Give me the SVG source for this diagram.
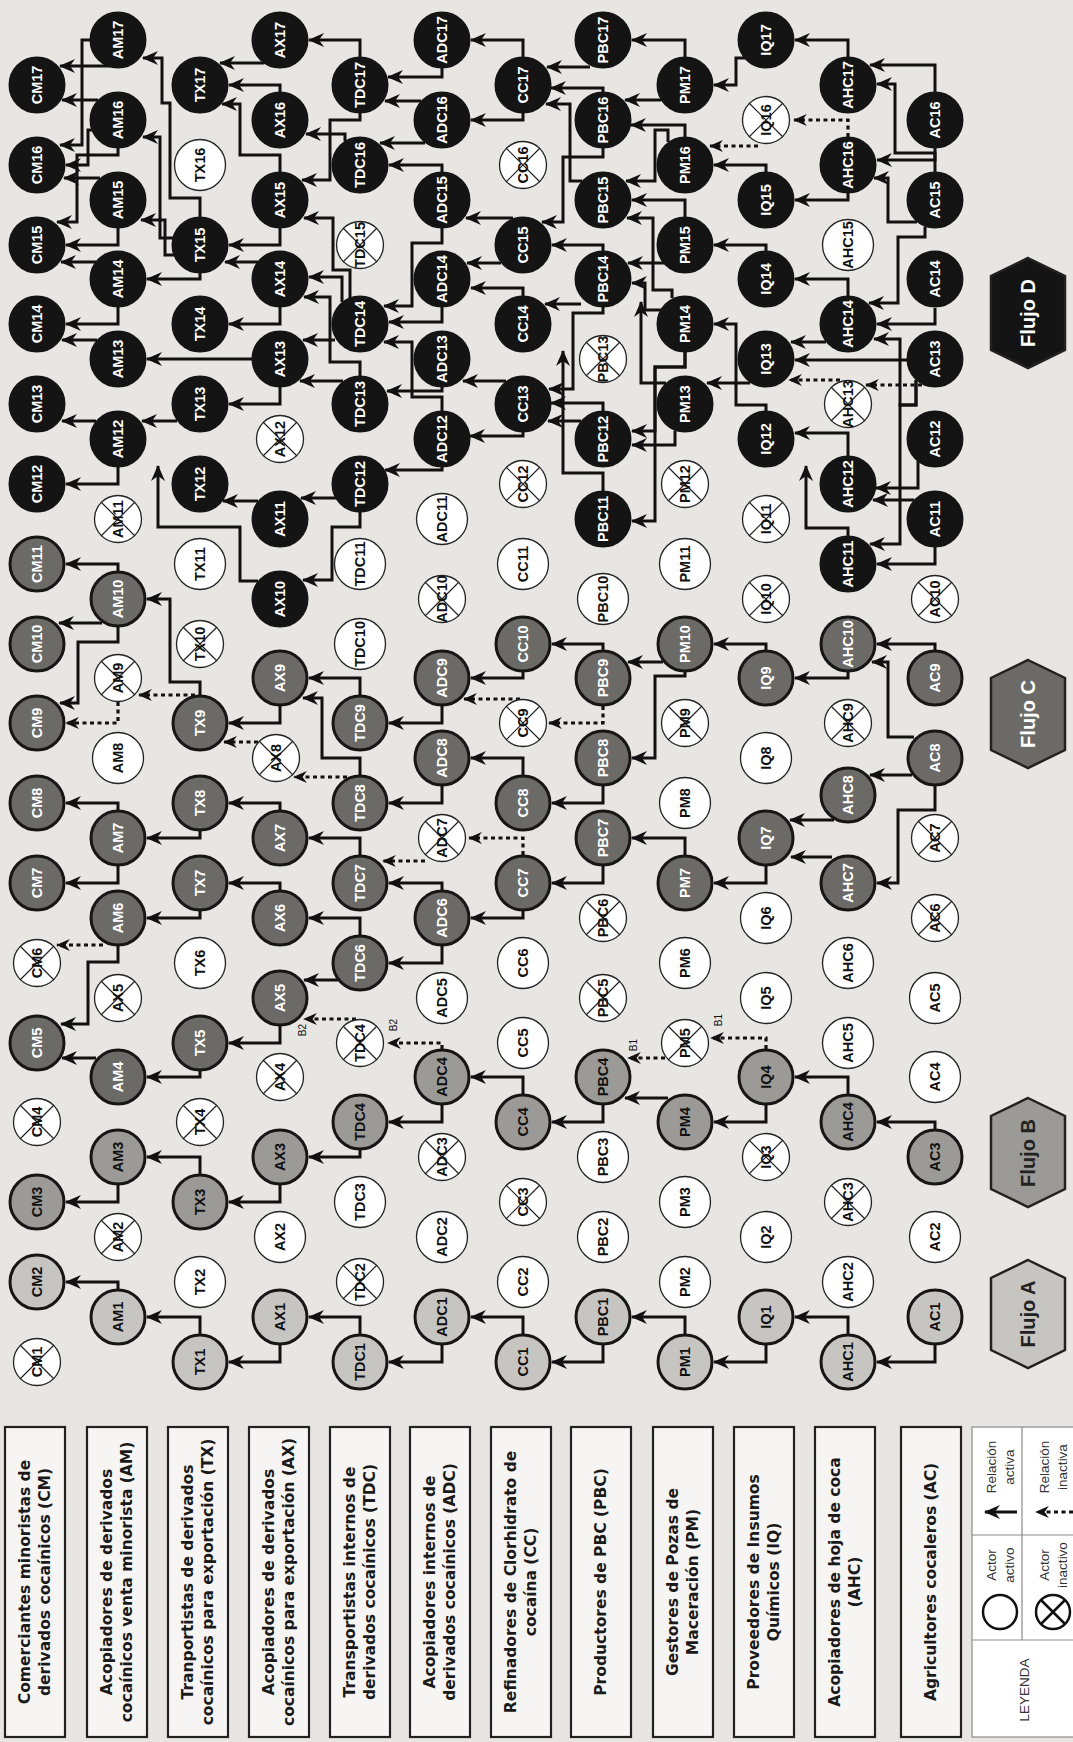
<svg xmlns="http://www.w3.org/2000/svg" width="1073" height="1742" viewBox="0 0 1073 1742">
<defs>
<marker id="ah" viewBox="0 0 16 14" refX="15" refY="7" markerWidth="16" markerHeight="14" markerUnits="userSpaceOnUse" orient="auto"><path d="M0,0 L16,7 L0,14 L5,7 Z" fill="#111"/></marker>
<marker id="ahd" viewBox="0 0 16 14" refX="15" refY="7" markerWidth="14" markerHeight="12" markerUnits="userSpaceOnUse" orient="auto"><path d="M0,0 L16,7 L0,14 L5,7 Z" fill="#111"/></marker>
<style>
.n circle{stroke:#161616;stroke-width:3}
.a circle{fill:#c6c5c2}
.b circle{fill:#9b9a97}
.c circle{fill:#6b6a67}
.d circle{fill:#141414;stroke:#141414}
.w circle,.x circle{fill:#fff;stroke:#222;stroke-width:1.3}
.x path{stroke:#222;stroke-width:1.2;fill:none}
.n text{font-family:"Liberation Sans",Arial,sans-serif;font-weight:bold;font-size:14.5px;text-anchor:middle;dominant-baseline:central;fill:#111}
.c text,.d text{fill:#fff}
.e{fill:none;stroke:#111;stroke-width:3;marker-end:url(#ah)}
.ed{fill:none;stroke:#111;stroke-width:3.2;stroke-dasharray:4 3.5;marker-end:url(#ahd)}
.lb rect{fill:#f6f5f3;stroke:#222;stroke-width:2.2}
.lb text{font-family:"DejaVu Sans",sans-serif;font-weight:bold;font-size:15.5px;text-anchor:middle;dominant-baseline:central;fill:#1a1a1a}
.hx polygon{stroke:#222;stroke-width:2.5}
.hx text{font-family:"Liberation Sans",Arial,sans-serif;font-weight:bold;font-size:20px;text-anchor:middle;dominant-baseline:central;fill:#222}
.bt{font-family:"Liberation Sans",Arial,sans-serif;font-size:10px;fill:#111;text-anchor:middle;dominant-baseline:central}
.lg text{font-family:"Liberation Sans",Arial,sans-serif;font-size:13.5px;fill:#333;text-anchor:middle;dominant-baseline:central}
</style>
</defs>
<rect width="1073" height="1742" fill="#e8e6e3"/>

<g id="labels" class="lb">
<g id="lbl-CM"><rect x="5" y="1427" width="60" height="310"/><text x="25" y="1582" transform="rotate(-90 25 1582)">Comerciantes minoristas de</text><text x="45" y="1582" transform="rotate(-90 45 1582)">derivados cocaínicos (CM)</text></g>
<g id="lbl-AM"><rect x="87" y="1427" width="60" height="310"/><text x="107" y="1582" transform="rotate(-90 107 1582)">Acopiadores de derivados</text><text x="127" y="1582" transform="rotate(-90 127 1582)">cocaínicos venta minorista (AM)</text></g>
<g id="lbl-TX"><rect x="168" y="1427" width="60" height="310"/><text x="188" y="1582" transform="rotate(-90 188 1582)">Tranportistas de derivados</text><text x="208" y="1582" transform="rotate(-90 208 1582)">cocaínicos para exportación (TX)</text></g>
<g id="lbl-AX"><rect x="249" y="1427" width="60" height="310"/><text x="269" y="1582" transform="rotate(-90 269 1582)">Acopiadores de derivados</text><text x="289" y="1582" transform="rotate(-90 289 1582)">cocaínicos para exportación (AX)</text></g>
<g id="lbl-TDC"><rect x="330" y="1427" width="60" height="310"/><text x="350" y="1582" transform="rotate(-90 350 1582)">Transportistas internos de</text><text x="370" y="1582" transform="rotate(-90 370 1582)">derivados cocaínicos (TDC)</text></g>
<g id="lbl-ADC"><rect x="410" y="1427" width="60" height="310"/><text x="430" y="1582" transform="rotate(-90 430 1582)">Acopiadores internos de</text><text x="450" y="1582" transform="rotate(-90 450 1582)">derivados cocaínicos (ADC)</text></g>
<g id="lbl-CC"><rect x="491" y="1427" width="60" height="310"/><text x="511" y="1582" transform="rotate(-90 511 1582)">Refinadores de Clorhidrato de</text><text x="531" y="1582" transform="rotate(-90 531 1582)">cocaína (CC)</text></g>
<g id="lbl-PBC"><rect x="571" y="1427" width="60" height="310"/><text x="601" y="1582" transform="rotate(-90 601 1582)">Productores de PBC (PBC)</text></g>
<g id="lbl-PM"><rect x="653" y="1427" width="60" height="310"/><text x="673" y="1582" transform="rotate(-90 673 1582)">Gestores de Pozas de</text><text x="693" y="1582" transform="rotate(-90 693 1582)">Maceración (PM)</text></g>
<g id="lbl-IQ"><rect x="734" y="1427" width="60" height="310"/><text x="754" y="1582" transform="rotate(-90 754 1582)">Proveedores de Insumos</text><text x="774" y="1582" transform="rotate(-90 774 1582)">Químicos (IQ)</text></g>
<g id="lbl-AHC"><rect x="815" y="1427" width="60" height="310"/><text x="835" y="1582" transform="rotate(-90 835 1582)">Acopiadores de hoja de coca</text><text x="855" y="1582" transform="rotate(-90 855 1582)">(AHC)</text></g>
<g id="lbl-AC"><rect x="901" y="1427" width="60" height="310"/><text x="931" y="1582" transform="rotate(-90 931 1582)">Agricultores cocaleros (AC)</text></g>
</g>

<g id="legend" class="lg">
<rect x="972" y="1427" width="110" height="310" fill="#fff" stroke="#8a8a8a" stroke-width="1.2"/>
<path d="M972,1640H1073M972,1535H1073M1022,1427V1640" stroke="#8a8a8a" stroke-width="1.2" fill="none"/>
<text x="1024" y="1690" transform="rotate(-90 1024 1690)" fill="#555">LEYENDA</text>
<circle cx="1000" cy="1612" r="17" fill="none" stroke="#111" stroke-width="2.5"/>
<text x="991" y="1565" transform="rotate(-90 991 1565)">Actor</text>
<text x="1009" y="1565" transform="rotate(-90 1009 1565)">activo</text>
<circle cx="1053" cy="1612" r="17" fill="none" stroke="#111" stroke-width="2.5"/>
<path d="M1041,1600L1065,1624M1065,1600L1041,1624" stroke="#111" stroke-width="2.5"/>
<text x="1044" y="1565" transform="rotate(-90 1044 1565)">Actor</text>
<text x="1062" y="1565" transform="rotate(-90 1062 1565)">inactivo</text>
<path class="e" d="M1017,1512H985"/>
<text x="991" y="1467" transform="rotate(-90 991 1467)">Relación</text>
<text x="1009" y="1467" transform="rotate(-90 1009 1467)">activa</text>
<path class="ed" d="M1073,1512H1036"/>
<text x="1044" y="1467" transform="rotate(-90 1044 1467)">Relación</text>
<text x="1062" y="1467" transform="rotate(-90 1062 1467)">inactiva</text>
</g>

<g id="flujos" class="hx">
<g id="flujoA"><polygon points="1028,1260 1065,1278 1065,1350 1028,1368 991,1350 991,1278" fill="#c6c5c2"/><text x="1028" y="1314" transform="rotate(-90 1028 1314)">Flujo A</text></g>
<g id="flujoB"><polygon points="1028,1098 1065,1116 1065,1189 1028,1207 991,1189 991,1116" fill="#9b9a97"/><text x="1028" y="1153" transform="rotate(-90 1028 1153)">Flujo B</text></g>
<g id="flujoC"><polygon points="1028,660 1065,678 1065,750 1028,768 991,750 991,678" fill="#6b6a67"/><text x="1028" y="714" transform="rotate(-90 1028 714)" fill="#fff" style="fill:#fff">Flujo C</text></g>
<g id="flujoD"><polygon points="1028,258 1065,276 1065,350 1028,368 991,350 991,276" fill="#141414"/><text x="1028" y="313" transform="rotate(-90 1028 313)" style="fill:#fff">Flujo D</text></g>
</g>

<g id="connectors">
<path class="e" d="M118,1289V1282H66"/>
<path class="e" d="M200,1334V1317H147"/>
<path class="e" d="M280,1345V1362H229"/>
<path class="e" d="M360,1334V1317H309"/>
<path class="e" d="M442,1345V1362H389"/>
<path class="e" d="M523,1334V1317H471"/>
<path class="e" d="M603,1345V1362H552"/>
<path class="e" d="M685,1334V1317H632"/>
<path class="e" d="M766,1345V1362H714"/>
<path class="e" d="M848,1334V1317H795"/>
<path class="e" d="M935,1345V1362H877"/>
<path class="e" d="M118,1185V1202H66"/>
<path class="e" d="M200,1174V1157H147"/>
<path class="e" d="M280,1185V1202H229"/>
<path class="e" d="M360,1150V1157H309"/>
<path class="e" d="M442,1105V1122H389"/>
<path class="e" d="M523,1094V1077H471"/>
<path class="e" d="M603,1105V1122H552"/>
<path class="e" d="M668,1098H625"/>
<path class="e" d="M766,1105V1122H714"/>
<path class="e" d="M848,1094V1077H795"/>
<path class="e" d="M935,1129V1122H877"/>
<path class="ed" d="M766,1049V1038H711"/>
<path class="ed" d="M665,1058H628"/>
<path class="ed" d="M442,1049V1043H388"/>
<path class="ed" d="M356,1019H304"/>
<path class="e" d="M96,1058H62"/>
<path class="e" d="M200,1071V1077H147"/>
<path class="e" d="M280,1026V1043H229"/>
<path class="e" d="M338,980H304"/>
<path class="e" d="M118,946V962H88V1024H61"/>
<path class="ed" d="M103,945H57"/>
<path class="e" d="M200,911V918H147"/>
<path class="e" d="M280,890V883H229"/>
<path class="e" d="M360,935V918H309"/>
<path class="e" d="M442,946V963H389"/>
<path class="e" d="M442,890V883H389"/>
<path class="ed" d="M425,861H383"/>
<path class="e" d="M523,911V918H471"/>
<path class="ed" d="M523,855V838H469"/>
<path class="e" d="M603,866V883H552"/>
<path class="e" d="M685,855V838H632"/>
<path class="e" d="M766,866V883H714"/>
<path class="e" d="M832,857H791"/>
<path class="e" d="M834,820H790"/>
<path class="e" d="M912,775H870"/>
<path class="e" d="M935,786V810H898V883H877"/>
<path class="e" d="M914,737H888V662H872"/>
<path class="e" d="M935,650V644H877"/>
<path class="e" d="M848,672V678H795"/>
<path class="e" d="M766,650V644H714"/>
<path class="e" d="M663,662H628"/>
<path class="e" d="M685,672V676H655V758H632"/>
<path class="e" d="M603,650V644H552"/>
<path class="ed" d="M603,706V723H549"/>
<path class="ed" d="M520,699H464"/>
<path class="e" d="M523,672V678H471"/>
<path class="e" d="M442,706V723H389"/>
<path class="e" d="M603,786V803H552"/>
<path class="e" d="M523,775V758H471"/>
<path class="e" d="M442,786V803H389"/>
<path class="e" d="M360,695V678H309"/>
<path class="e" d="M360,775V758H322V698H303"/>
<path class="ed" d="M347,777H294"/>
<path class="e" d="M360,855V838H309"/>
<path class="e" d="M280,706V723H229"/>
<path class="ed" d="M258,742H224"/>
<path class="e" d="M280,810V803H229"/>
<path class="e" d="M200,695V682H170V599H147"/>
<path class="ed" d="M195,695H139"/>
<path class="e" d="M200,831V838H147"/>
<path class="e" d="M118,571V564H66"/>
<path class="e" d="M102,623H59"/>
<path class="e" d="M118,627V642H78V703H60"/>
<path class="ed" d="M118,702V723H66"/>
<path class="e" d="M118,810V803H66"/>
<path class="e" d="M118,866V883H66"/>
<path class="e" d="M110,66H60"/>
<path class="e" d="M90,40H82V145H60"/>
<path class="e" d="M98,100H62"/>
<path class="e" d="M92,130H88V165H66"/>
<path class="e" d="M118,148V155H77V222H57"/>
<path class="e" d="M100,178H64"/>
<path class="e" d="M118,228V245H66"/>
<path class="e" d="M96,262H61"/>
<path class="e" d="M118,307V324H66"/>
<path class="e" d="M97,340H62"/>
<path class="e" d="M96,421H62"/>
<path class="e" d="M118,467V484H66"/>
<path class="e" d="M200,217V198H170V103H162V58H143"/>
<path class="e" d="M173,238H160V137H143"/>
<path class="e" d="M174,255H165V220H141"/>
<path class="e" d="M200,273V279H147"/>
<path class="e" d="M177,421H142"/>
<path class="e" d="M252,359H147"/>
<path class="e" d="M258,581H240V527H158V466"/>
<path class="e" d="M264,63H220"/>
<path class="e" d="M280,92V85H229"/>
<path class="e" d="M280,172V155H240V104H222"/>
<path class="e" d="M280,228V245H229"/>
<path class="e" d="M258,262H225"/>
<path class="e" d="M280,307V324H229"/>
<path class="e" d="M280,387V404H229"/>
<path class="e" d="M258,501H223"/>
<path class="e" d="M360,57V40H309"/>
<path class="e" d="M360,113V120H330V180H302"/>
<path class="e" d="M345,141V134H306"/>
<path class="e" d="M350,298V270H333V218H304"/>
<path class="e" d="M342,302V277H309"/>
<path class="e" d="M360,376V362H330V297H304"/>
<path class="e" d="M335,340H303"/>
<path class="e" d="M343,381H300"/>
<path class="e" d="M336,498H301"/>
<path class="e" d="M360,512V527H332V580H303"/>
<path class="e" d="M442,68V77H388"/>
<path class="e" d="M421,101H385"/>
<path class="e" d="M425,143H380"/>
<path class="e" d="M442,172V165H389"/>
<path class="e" d="M442,228V243H412V306H384"/>
<path class="e" d="M442,307V322H389"/>
<path class="e" d="M442,411V397H412V342H384"/>
<path class="e" d="M442,387V391H387"/>
<path class="e" d="M442,467V470H385"/>
<path class="e" d="M523,57V40H471"/>
<path class="e" d="M523,113V120H471"/>
<path class="e" d="M513,218H466"/>
<path class="e" d="M501,263H467"/>
<path class="e" d="M523,296V288H471"/>
<path class="e" d="M506,381H463"/>
<path class="e" d="M523,432V436H470"/>
<path class="e" d="M590,67H547"/>
<path class="e" d="M603,92V88H551"/>
<path class="e" d="M582,181H570V104H546"/>
<path class="e" d="M603,148V157H563V222H542"/>
<path class="e" d="M603,251V245H552"/>
<path class="e" d="M581,304H545"/>
<path class="e" d="M603,307V313H573V389H549"/>
<path class="e" d="M603,411V403H551"/>
<path class="e" d="M581,421H548"/>
<path class="e" d="M603,491V473H563V351"/>
<path class="e" d="M685,57V40H632"/>
<path class="e" d="M661,100H625"/>
<path class="e" d="M685,137V125H631"/>
<path class="e" d="M668,142V130H655V181H626"/>
<path class="e" d="M685,217V200H632"/>
<path class="e" d="M664,263H628"/>
<path class="e" d="M672,298V290H653V218H627"/>
<path class="e" d="M661,310H645V283H632"/>
<path class="e" d="M666,383H641V302"/>
<path class="e" d="M685,352V367H655V431H632"/>
<path class="e" d="M685,352V367H655V521H632"/>
<path class="e" d="M675,431V445H632"/>
<path class="e" d="M745,58H736V85H714"/>
<path class="ed" d="M758,146H710"/>
<path class="e" d="M766,172V165H714"/>
<path class="e" d="M766,251V245H714"/>
<path class="e" d="M750,383H707"/>
<path class="e" d="M766,411V405H736V324H714"/>
<path class="e" d="M848,57V40H795"/>
<path class="ed" d="M848,137V120H794"/>
<path class="e" d="M848,193V200H795"/>
<path class="e" d="M848,296V279H795"/>
<path class="e" d="M826,342H791"/>
<path class="e" d="M907,360H795"/>
<path class="ed" d="M840,380H789"/>
<path class="ed" d="M922,385H866"/>
<path class="e" d="M848,456V433H795"/>
<path class="e" d="M848,536V528H806V466"/>
<path class="e" d="M935,92V65H870"/>
<path class="e" d="M935,172V153H895V84H877"/>
<path class="e" d="M935,148V160H877"/>
<path class="e" d="M917,222H888V178H874"/>
<path class="e" d="M925,227V237H898V303H869"/>
<path class="e" d="M935,308V324H877"/>
<path class="e" d="M916,380V405H900V339H874"/>
<path class="e" d="M916,380V405H900V544H870"/>
<path class="e" d="M918,461V488H876"/>
<path class="e" d="M914,500H873"/>
<path class="e" d="M935,547V564H877"/>
</g>

<g id="blabels">
<text class="bt" x="718" y="1020" transform="rotate(-90 718 1020)">B1</text>
<text class="bt" x="633" y="1045" transform="rotate(-90 633 1045)">B1</text>
<text class="bt" x="393" y="1025" transform="rotate(-90 393 1025)">B2</text>
<text class="bt" x="302" y="1030" transform="rotate(-90 302 1030)">B2</text>
</g>

<g id="nodes">
<g id="n-CM1" class="n x"><circle cx="37" cy="1362" r="23.5"/><path d="M20,1345L54,1379M54,1345L20,1379"/><text x="37" y="1362" transform="rotate(-90 37 1362)">CM1</text></g>
<g id="n-CM2" class="n a"><circle cx="37" cy="1282" r="27"/><text x="37" y="1282" transform="rotate(-90 37 1282)">CM2</text></g>
<g id="n-CM3" class="n b"><circle cx="37" cy="1202" r="27"/><text x="37" y="1202" transform="rotate(-90 37 1202)">CM3</text></g>
<g id="n-CM4" class="n x"><circle cx="37" cy="1122" r="23.5"/><path d="M20,1105L54,1139M54,1105L20,1139"/><text x="37" y="1122" transform="rotate(-90 37 1122)">CM4</text></g>
<g id="n-CM5" class="n c"><circle cx="37" cy="1043" r="27"/><text x="37" y="1043" transform="rotate(-90 37 1043)">CM5</text></g>
<g id="n-CM6" class="n x"><circle cx="37" cy="963" r="23.5"/><path d="M20,946L54,980M54,946L20,980"/><text x="37" y="963" transform="rotate(-90 37 963)">CM6</text></g>
<g id="n-CM7" class="n c"><circle cx="37" cy="883" r="27"/><text x="37" y="883" transform="rotate(-90 37 883)">CM7</text></g>
<g id="n-CM8" class="n c"><circle cx="37" cy="803" r="27"/><text x="37" y="803" transform="rotate(-90 37 803)">CM8</text></g>
<g id="n-CM9" class="n c"><circle cx="37" cy="723" r="27"/><text x="37" y="723" transform="rotate(-90 37 723)">CM9</text></g>
<g id="n-CM10" class="n c"><circle cx="37" cy="644" r="27"/><text x="37" y="644" transform="rotate(-90 37 644)">CM10</text></g>
<g id="n-CM11" class="n c"><circle cx="37" cy="564" r="27"/><text x="37" y="564" transform="rotate(-90 37 564)">CM11</text></g>
<g id="n-CM12" class="n d"><circle cx="37" cy="484" r="27"/><text x="37" y="484" transform="rotate(-90 37 484)">CM12</text></g>
<g id="n-CM13" class="n d"><circle cx="37" cy="404" r="27"/><text x="37" y="404" transform="rotate(-90 37 404)">CM13</text></g>
<g id="n-CM14" class="n d"><circle cx="37" cy="324" r="27"/><text x="37" y="324" transform="rotate(-90 37 324)">CM14</text></g>
<g id="n-CM15" class="n d"><circle cx="37" cy="245" r="27"/><text x="37" y="245" transform="rotate(-90 37 245)">CM15</text></g>
<g id="n-CM16" class="n d"><circle cx="37" cy="165" r="27"/><text x="37" y="165" transform="rotate(-90 37 165)">CM16</text></g>
<g id="n-CM17" class="n d"><circle cx="37" cy="85" r="27"/><text x="37" y="85" transform="rotate(-90 37 85)">CM17</text></g>

<g id="n-AM1" class="n a"><circle cx="118" cy="1317" r="27"/><text x="118" y="1317" transform="rotate(-90 118 1317)">AM1</text></g>
<g id="n-AM2" class="n x"><circle cx="118" cy="1237" r="23.5"/><path d="M101,1220L135,1254M135,1220L101,1254"/><text x="118" y="1237" transform="rotate(-90 118 1237)">AM2</text></g>
<g id="n-AM3" class="n b"><circle cx="118" cy="1157" r="27"/><text x="118" y="1157" transform="rotate(-90 118 1157)">AM3</text></g>
<g id="n-AM4" class="n c"><circle cx="118" cy="1077" r="27"/><text x="118" y="1077" transform="rotate(-90 118 1077)">AM4</text></g>
<g id="n-AM5" class="n x"><circle cx="118" cy="998" r="23.5"/><path d="M101,981L135,1015M135,981L101,1015"/><text x="118" y="998" transform="rotate(-90 118 998)">AX5</text></g>
<g id="n-AM6" class="n c"><circle cx="118" cy="918" r="27"/><text x="118" y="918" transform="rotate(-90 118 918)">AM6</text></g>
<g id="n-AM7" class="n c"><circle cx="118" cy="838" r="27"/><text x="118" y="838" transform="rotate(-90 118 838)">AM7</text></g>
<g id="n-AM8" class="n w"><circle cx="118" cy="758" r="25.5"/><text x="118" y="758" transform="rotate(-90 118 758)">AM8</text></g>
<g id="n-AM9" class="n x"><circle cx="118" cy="678" r="23.5"/><path d="M101,661L135,695M135,661L101,695"/><text x="118" y="678" transform="rotate(-90 118 678)">AM9</text></g>
<g id="n-AM10" class="n c"><circle cx="118" cy="599" r="27"/><text x="118" y="599" transform="rotate(-90 118 599)">AM10</text></g>
<g id="n-AM11" class="n x"><circle cx="118" cy="519" r="23.5"/><path d="M101,502L135,536M135,502L101,536"/><text x="118" y="519" transform="rotate(-90 118 519)">AM11</text></g>
<g id="n-AM12" class="n d"><circle cx="118" cy="439" r="27"/><text x="118" y="439" transform="rotate(-90 118 439)">AM12</text></g>
<g id="n-AM13" class="n d"><circle cx="118" cy="359" r="27"/><text x="118" y="359" transform="rotate(-90 118 359)">AM13</text></g>
<g id="n-AM14" class="n d"><circle cx="118" cy="279" r="27"/><text x="118" y="279" transform="rotate(-90 118 279)">AM14</text></g>
<g id="n-AM15" class="n d"><circle cx="118" cy="200" r="27"/><text x="118" y="200" transform="rotate(-90 118 200)">AM15</text></g>
<g id="n-AM16" class="n d"><circle cx="118" cy="120" r="27"/><text x="118" y="120" transform="rotate(-90 118 120)">AM16</text></g>
<g id="n-AM17" class="n d"><circle cx="118" cy="40" r="27"/><text x="118" y="40" transform="rotate(-90 118 40)">AM17</text></g>

<g id="n-TX1" class="n a"><circle cx="200" cy="1362" r="27"/><text x="200" y="1362" transform="rotate(-90 200 1362)">TX1</text></g>
<g id="n-TX2" class="n w"><circle cx="200" cy="1282" r="25.5"/><text x="200" y="1282" transform="rotate(-90 200 1282)">TX2</text></g>
<g id="n-TX3" class="n b"><circle cx="200" cy="1202" r="27"/><text x="200" y="1202" transform="rotate(-90 200 1202)">TX3</text></g>
<g id="n-TX4" class="n x"><circle cx="200" cy="1122" r="23.5"/><path d="M183,1105L217,1139M217,1105L183,1139"/><text x="200" y="1122" transform="rotate(-90 200 1122)">TX4</text></g>
<g id="n-TX5" class="n c"><circle cx="200" cy="1043" r="27"/><text x="200" y="1043" transform="rotate(-90 200 1043)">TX5</text></g>
<g id="n-TX6" class="n w"><circle cx="200" cy="963" r="25.5"/><text x="200" y="963" transform="rotate(-90 200 963)">TX6</text></g>
<g id="n-TX7" class="n c"><circle cx="200" cy="883" r="27"/><text x="200" y="883" transform="rotate(-90 200 883)">TX7</text></g>
<g id="n-TX8" class="n c"><circle cx="200" cy="803" r="27"/><text x="200" y="803" transform="rotate(-90 200 803)">TX8</text></g>
<g id="n-TX9" class="n c"><circle cx="200" cy="723" r="27"/><text x="200" y="723" transform="rotate(-90 200 723)">TX9</text></g>
<g id="n-TX10" class="n x"><circle cx="200" cy="644" r="23.5"/><path d="M183,627L217,661M217,627L183,661"/><text x="200" y="644" transform="rotate(-90 200 644)">TX10</text></g>
<g id="n-TX11" class="n w"><circle cx="200" cy="564" r="25.5"/><text x="200" y="564" transform="rotate(-90 200 564)">TX11</text></g>
<g id="n-TX12" class="n d"><circle cx="200" cy="484" r="27"/><text x="200" y="484" transform="rotate(-90 200 484)">TX12</text></g>
<g id="n-TX13" class="n d"><circle cx="200" cy="404" r="27"/><text x="200" y="404" transform="rotate(-90 200 404)">TX13</text></g>
<g id="n-TX14" class="n d"><circle cx="200" cy="324" r="27"/><text x="200" y="324" transform="rotate(-90 200 324)">TX14</text></g>
<g id="n-TX15" class="n d"><circle cx="200" cy="245" r="27"/><text x="200" y="245" transform="rotate(-90 200 245)">TX15</text></g>
<g id="n-TX16" class="n w"><circle cx="200" cy="165" r="25.5"/><text x="200" y="165" transform="rotate(-90 200 165)">TX16</text></g>
<g id="n-TX17" class="n d"><circle cx="200" cy="85" r="27"/><text x="200" y="85" transform="rotate(-90 200 85)">TX17</text></g>

<g id="n-AX1" class="n a"><circle cx="280" cy="1317" r="27"/><text x="280" y="1317" transform="rotate(-90 280 1317)">AX1</text></g>
<g id="n-AX2" class="n w"><circle cx="280" cy="1237" r="25.5"/><text x="280" y="1237" transform="rotate(-90 280 1237)">AX2</text></g>
<g id="n-AX3" class="n b"><circle cx="280" cy="1157" r="27"/><text x="280" y="1157" transform="rotate(-90 280 1157)">AX3</text></g>
<g id="n-AX4" class="n x"><circle cx="280" cy="1077" r="23.5"/><path d="M263,1060L297,1094M297,1060L263,1094"/><text x="280" y="1077" transform="rotate(-90 280 1077)">AX4</text></g>
<g id="n-AX5" class="n c"><circle cx="280" cy="998" r="27"/><text x="280" y="998" transform="rotate(-90 280 998)">AX5</text></g>
<g id="n-AX6" class="n c"><circle cx="280" cy="918" r="27"/><text x="280" y="918" transform="rotate(-90 280 918)">AX6</text></g>
<g id="n-AX7" class="n c"><circle cx="280" cy="838" r="27"/><text x="280" y="838" transform="rotate(-90 280 838)">AX7</text></g>
<g id="n-AX8" class="n x"><circle cx="276" cy="758" r="23.5"/><path d="M259,741L293,775M293,741L259,775"/><text x="276" y="758" transform="rotate(-90 276 758)">AX8</text></g>
<g id="n-AX9" class="n c"><circle cx="280" cy="678" r="27"/><text x="280" y="678" transform="rotate(-90 280 678)">AX9</text></g>
<g id="n-AX10" class="n d"><circle cx="280" cy="599" r="27"/><text x="280" y="599" transform="rotate(-90 280 599)">AX10</text></g>
<g id="n-AX11" class="n d"><circle cx="280" cy="519" r="27"/><text x="280" y="519" transform="rotate(-90 280 519)">AX11</text></g>
<g id="n-AX12" class="n x"><circle cx="280" cy="439" r="23.5"/><path d="M263,422L297,456M297,422L263,456"/><text x="280" y="439" transform="rotate(-90 280 439)">AX12</text></g>
<g id="n-AX13" class="n d"><circle cx="280" cy="359" r="27"/><text x="280" y="359" transform="rotate(-90 280 359)">AX13</text></g>
<g id="n-AX14" class="n d"><circle cx="280" cy="279" r="27"/><text x="280" y="279" transform="rotate(-90 280 279)">AX14</text></g>
<g id="n-AX15" class="n d"><circle cx="280" cy="200" r="27"/><text x="280" y="200" transform="rotate(-90 280 200)">AX15</text></g>
<g id="n-AX16" class="n d"><circle cx="280" cy="120" r="27"/><text x="280" y="120" transform="rotate(-90 280 120)">AX16</text></g>
<g id="n-AX17" class="n d"><circle cx="280" cy="40" r="27"/><text x="280" y="40" transform="rotate(-90 280 40)">AX17</text></g>

<g id="n-TDC1" class="n a"><circle cx="360" cy="1362" r="27"/><text x="360" y="1362" transform="rotate(-90 360 1362)">TDC1</text></g>
<g id="n-TDC2" class="n x"><circle cx="360" cy="1282" r="23.5"/><path d="M343,1265L377,1299M377,1265L343,1299"/><text x="360" y="1282" transform="rotate(-90 360 1282)">TDC2</text></g>
<g id="n-TDC3" class="n w"><circle cx="360" cy="1202" r="25.5"/><text x="360" y="1202" transform="rotate(-90 360 1202)">TDC3</text></g>
<g id="n-TDC4" class="n b"><circle cx="360" cy="1122" r="27"/><text x="360" y="1122" transform="rotate(-90 360 1122)">TDC4</text></g>
<g id="n-TDC5" class="n x"><circle cx="360" cy="1043" r="23.5"/><path d="M343,1026L377,1060M377,1026L343,1060"/><text x="360" y="1043" transform="rotate(-90 360 1043)">TDC4</text></g>
<g id="n-TDC6" class="n c"><circle cx="360" cy="963" r="27"/><text x="360" y="963" transform="rotate(-90 360 963)">TDC6</text></g>
<g id="n-TDC7" class="n c"><circle cx="360" cy="883" r="27"/><text x="360" y="883" transform="rotate(-90 360 883)">TDC7</text></g>
<g id="n-TDC8" class="n c"><circle cx="360" cy="803" r="27"/><text x="360" y="803" transform="rotate(-90 360 803)">TDC8</text></g>
<g id="n-TDC9" class="n c"><circle cx="360" cy="723" r="27"/><text x="360" y="723" transform="rotate(-90 360 723)">TDC9</text></g>
<g id="n-TDC10" class="n w"><circle cx="360" cy="644" r="25.5"/><text x="360" y="644" transform="rotate(-90 360 644)">TDC10</text></g>
<g id="n-TDC11" class="n w"><circle cx="360" cy="564" r="25.5"/><text x="360" y="564" transform="rotate(-90 360 564)">TDC11</text></g>
<g id="n-TDC12" class="n d"><circle cx="360" cy="484" r="27"/><text x="360" y="484" transform="rotate(-90 360 484)">TDC12</text></g>
<g id="n-TDC13" class="n d"><circle cx="360" cy="404" r="27"/><text x="360" y="404" transform="rotate(-90 360 404)">TDC13</text></g>
<g id="n-TDC14" class="n d"><circle cx="360" cy="324" r="27"/><text x="360" y="324" transform="rotate(-90 360 324)">TDC14</text></g>
<g id="n-TDC15" class="n x"><circle cx="360" cy="245" r="23.5"/><path d="M343,228L377,262M377,228L343,262"/><text x="360" y="245" transform="rotate(-90 360 245)">TDC15</text></g>
<g id="n-TDC16" class="n d"><circle cx="360" cy="165" r="27"/><text x="360" y="165" transform="rotate(-90 360 165)">TDC16</text></g>
<g id="n-TDC17" class="n d"><circle cx="360" cy="85" r="27"/><text x="360" y="85" transform="rotate(-90 360 85)">TDC17</text></g>

<g id="n-ADC1" class="n a"><circle cx="442" cy="1317" r="27"/><text x="442" y="1317" transform="rotate(-90 442 1317)">ADC1</text></g>
<g id="n-ADC2" class="n w"><circle cx="442" cy="1237" r="25.5"/><text x="442" y="1237" transform="rotate(-90 442 1237)">ADC2</text></g>
<g id="n-ADC3" class="n x"><circle cx="442" cy="1157" r="23.5"/><path d="M425,1140L459,1174M459,1140L425,1174"/><text x="442" y="1157" transform="rotate(-90 442 1157)">ADC3</text></g>
<g id="n-ADC4" class="n b"><circle cx="442" cy="1077" r="27"/><text x="442" y="1077" transform="rotate(-90 442 1077)">ADC4</text></g>
<g id="n-ADC5" class="n w"><circle cx="442" cy="998" r="25.5"/><text x="442" y="998" transform="rotate(-90 442 998)">ADC5</text></g>
<g id="n-ADC6" class="n c"><circle cx="442" cy="918" r="27"/><text x="442" y="918" transform="rotate(-90 442 918)">ADC6</text></g>
<g id="n-ADC7" class="n x"><circle cx="442" cy="838" r="23.5"/><path d="M425,821L459,855M459,821L425,855"/><text x="442" y="838" transform="rotate(-90 442 838)">ADC7</text></g>
<g id="n-ADC8" class="n c"><circle cx="442" cy="758" r="27"/><text x="442" y="758" transform="rotate(-90 442 758)">ADC8</text></g>
<g id="n-ADC9" class="n c"><circle cx="442" cy="678" r="27"/><text x="442" y="678" transform="rotate(-90 442 678)">ADC9</text></g>
<g id="n-ADC10" class="n x"><circle cx="442" cy="599" r="23.5"/><path d="M425,582L459,616M459,582L425,616"/><text x="442" y="599" transform="rotate(-90 442 599)">ADC10</text></g>
<g id="n-ADC11" class="n w"><circle cx="442" cy="519" r="25.5"/><text x="442" y="519" transform="rotate(-90 442 519)">ADC11</text></g>
<g id="n-ADC12" class="n d"><circle cx="442" cy="439" r="27"/><text x="442" y="439" transform="rotate(-90 442 439)">ADC12</text></g>
<g id="n-ADC13" class="n d"><circle cx="442" cy="359" r="27"/><text x="442" y="359" transform="rotate(-90 442 359)">ADC13</text></g>
<g id="n-ADC14" class="n d"><circle cx="442" cy="279" r="27"/><text x="442" y="279" transform="rotate(-90 442 279)">ADC14</text></g>
<g id="n-ADC15" class="n d"><circle cx="442" cy="200" r="27"/><text x="442" y="200" transform="rotate(-90 442 200)">ADC15</text></g>
<g id="n-ADC16" class="n d"><circle cx="442" cy="120" r="27"/><text x="442" y="120" transform="rotate(-90 442 120)">ADC16</text></g>
<g id="n-ADC17" class="n d"><circle cx="442" cy="40" r="27"/><text x="442" y="40" transform="rotate(-90 442 40)">ADC17</text></g>

<g id="n-CC1" class="n a"><circle cx="523" cy="1362" r="27"/><text x="523" y="1362" transform="rotate(-90 523 1362)">CC1</text></g>
<g id="n-CC2" class="n w"><circle cx="523" cy="1282" r="25.5"/><text x="523" y="1282" transform="rotate(-90 523 1282)">CC2</text></g>
<g id="n-CC3" class="n x"><circle cx="523" cy="1202" r="23.5"/><path d="M506,1185L540,1219M540,1185L506,1219"/><text x="523" y="1202" transform="rotate(-90 523 1202)">CC3</text></g>
<g id="n-CC4" class="n b"><circle cx="523" cy="1122" r="27"/><text x="523" y="1122" transform="rotate(-90 523 1122)">CC4</text></g>
<g id="n-CC5" class="n w"><circle cx="523" cy="1043" r="25.5"/><text x="523" y="1043" transform="rotate(-90 523 1043)">CC5</text></g>
<g id="n-CC6" class="n w"><circle cx="523" cy="963" r="25.5"/><text x="523" y="963" transform="rotate(-90 523 963)">CC6</text></g>
<g id="n-CC7" class="n c"><circle cx="523" cy="883" r="27"/><text x="523" y="883" transform="rotate(-90 523 883)">CC7</text></g>
<g id="n-CC8" class="n c"><circle cx="523" cy="803" r="27"/><text x="523" y="803" transform="rotate(-90 523 803)">CC8</text></g>
<g id="n-CC9" class="n x"><circle cx="523" cy="723" r="23.5"/><path d="M506,706L540,740M540,706L506,740"/><text x="523" y="723" transform="rotate(-90 523 723)">CC9</text></g>
<g id="n-CC10" class="n c"><circle cx="523" cy="644" r="27"/><text x="523" y="644" transform="rotate(-90 523 644)">CC10</text></g>
<g id="n-CC11" class="n w"><circle cx="523" cy="564" r="25.5"/><text x="523" y="564" transform="rotate(-90 523 564)">CC11</text></g>
<g id="n-CC12" class="n x"><circle cx="523" cy="484" r="23.5"/><path d="M506,467L540,501M540,467L506,501"/><text x="523" y="484" transform="rotate(-90 523 484)">CC12</text></g>
<g id="n-CC13" class="n d"><circle cx="523" cy="404" r="27"/><text x="523" y="404" transform="rotate(-90 523 404)">CC13</text></g>
<g id="n-CC14" class="n d"><circle cx="523" cy="324" r="27"/><text x="523" y="324" transform="rotate(-90 523 324)">CC14</text></g>
<g id="n-CC15" class="n d"><circle cx="523" cy="245" r="27"/><text x="523" y="245" transform="rotate(-90 523 245)">CC15</text></g>
<g id="n-CC16" class="n x"><circle cx="523" cy="165" r="23.5"/><path d="M506,148L540,182M540,148L506,182"/><text x="523" y="165" transform="rotate(-90 523 165)">CC16</text></g>
<g id="n-CC17" class="n d"><circle cx="523" cy="85" r="27"/><text x="523" y="85" transform="rotate(-90 523 85)">CC17</text></g>

<g id="n-PBC1" class="n a"><circle cx="603" cy="1317" r="27"/><text x="603" y="1317" transform="rotate(-90 603 1317)">PBC1</text></g>
<g id="n-PBC2" class="n w"><circle cx="603" cy="1237" r="25.5"/><text x="603" y="1237" transform="rotate(-90 603 1237)">PBC2</text></g>
<g id="n-PBC3" class="n w"><circle cx="603" cy="1157" r="25.5"/><text x="603" y="1157" transform="rotate(-90 603 1157)">PBC3</text></g>
<g id="n-PBC4" class="n b"><circle cx="603" cy="1077" r="27"/><text x="603" y="1077" transform="rotate(-90 603 1077)">PBC4</text></g>
<g id="n-PBC5" class="n x"><circle cx="603" cy="998" r="23.5"/><path d="M586,981L620,1015M620,981L586,1015"/><text x="603" y="998" transform="rotate(-90 603 998)">PBC5</text></g>
<g id="n-PBC6" class="n x"><circle cx="603" cy="918" r="23.5"/><path d="M586,901L620,935M620,901L586,935"/><text x="603" y="918" transform="rotate(-90 603 918)">PBC6</text></g>
<g id="n-PBC7" class="n c"><circle cx="603" cy="838" r="27"/><text x="603" y="838" transform="rotate(-90 603 838)">PBC7</text></g>
<g id="n-PBC8" class="n c"><circle cx="603" cy="758" r="27"/><text x="603" y="758" transform="rotate(-90 603 758)">PBC8</text></g>
<g id="n-PBC9" class="n c"><circle cx="603" cy="678" r="27"/><text x="603" y="678" transform="rotate(-90 603 678)">PBC9</text></g>
<g id="n-PBC10" class="n w"><circle cx="603" cy="599" r="25.5"/><text x="603" y="599" transform="rotate(-90 603 599)">PBC10</text></g>
<g id="n-PBC11" class="n d"><circle cx="603" cy="519" r="27"/><text x="603" y="519" transform="rotate(-90 603 519)">PBC11</text></g>
<g id="n-PBC12" class="n d"><circle cx="603" cy="439" r="27"/><text x="603" y="439" transform="rotate(-90 603 439)">PBC12</text></g>
<g id="n-PBC13" class="n x"><circle cx="603" cy="359" r="23.5"/><path d="M586,342L620,376M620,342L586,376"/><text x="603" y="359" transform="rotate(-90 603 359)">PBC13</text></g>
<g id="n-PBC14" class="n d"><circle cx="603" cy="279" r="27"/><text x="603" y="279" transform="rotate(-90 603 279)">PBC14</text></g>
<g id="n-PBC15" class="n d"><circle cx="603" cy="200" r="27"/><text x="603" y="200" transform="rotate(-90 603 200)">PBC15</text></g>
<g id="n-PBC16" class="n d"><circle cx="603" cy="120" r="27"/><text x="603" y="120" transform="rotate(-90 603 120)">PBC16</text></g>
<g id="n-PBC17" class="n d"><circle cx="603" cy="40" r="27"/><text x="603" y="40" transform="rotate(-90 603 40)">PBC17</text></g>

<g id="n-PM1" class="n a"><circle cx="685" cy="1362" r="27"/><text x="685" y="1362" transform="rotate(-90 685 1362)">PM1</text></g>
<g id="n-PM2" class="n w"><circle cx="685" cy="1282" r="25.5"/><text x="685" y="1282" transform="rotate(-90 685 1282)">PM2</text></g>
<g id="n-PM3" class="n w"><circle cx="685" cy="1202" r="25.5"/><text x="685" y="1202" transform="rotate(-90 685 1202)">PM3</text></g>
<g id="n-PM4" class="n b"><circle cx="685" cy="1122" r="27"/><text x="685" y="1122" transform="rotate(-90 685 1122)">PM4</text></g>
<g id="n-PM5" class="n x"><circle cx="685" cy="1043" r="23.5"/><path d="M668,1026L702,1060M702,1026L668,1060"/><text x="685" y="1043" transform="rotate(-90 685 1043)">PM5</text></g>
<g id="n-PM6" class="n w"><circle cx="685" cy="963" r="25.5"/><text x="685" y="963" transform="rotate(-90 685 963)">PM6</text></g>
<g id="n-PM7" class="n c"><circle cx="685" cy="883" r="27"/><text x="685" y="883" transform="rotate(-90 685 883)">PM7</text></g>
<g id="n-PM8" class="n w"><circle cx="685" cy="803" r="25.5"/><text x="685" y="803" transform="rotate(-90 685 803)">PM8</text></g>
<g id="n-PM9" class="n x"><circle cx="685" cy="723" r="23.5"/><path d="M668,706L702,740M702,706L668,740"/><text x="685" y="723" transform="rotate(-90 685 723)">PM9</text></g>
<g id="n-PM10" class="n c"><circle cx="685" cy="644" r="27"/><text x="685" y="644" transform="rotate(-90 685 644)">PM10</text></g>
<g id="n-PM11" class="n w"><circle cx="685" cy="564" r="25.5"/><text x="685" y="564" transform="rotate(-90 685 564)">PM11</text></g>
<g id="n-PM12" class="n x"><circle cx="685" cy="484" r="23.5"/><path d="M668,467L702,501M702,467L668,501"/><text x="685" y="484" transform="rotate(-90 685 484)">PM12</text></g>
<g id="n-PM13" class="n d"><circle cx="685" cy="404" r="27"/><text x="685" y="404" transform="rotate(-90 685 404)">PM13</text></g>
<g id="n-PM14" class="n d"><circle cx="685" cy="324" r="27"/><text x="685" y="324" transform="rotate(-90 685 324)">PM14</text></g>
<g id="n-PM15" class="n d"><circle cx="685" cy="245" r="27"/><text x="685" y="245" transform="rotate(-90 685 245)">PM15</text></g>
<g id="n-PM16" class="n d"><circle cx="685" cy="165" r="27"/><text x="685" y="165" transform="rotate(-90 685 165)">PM16</text></g>
<g id="n-PM17" class="n d"><circle cx="685" cy="85" r="27"/><text x="685" y="85" transform="rotate(-90 685 85)">PM17</text></g>

<g id="n-IQ1" class="n a"><circle cx="766" cy="1317" r="27"/><text x="766" y="1317" transform="rotate(-90 766 1317)">IQ1</text></g>
<g id="n-IQ2" class="n w"><circle cx="766" cy="1237" r="25.5"/><text x="766" y="1237" transform="rotate(-90 766 1237)">IQ2</text></g>
<g id="n-IQ3" class="n x"><circle cx="766" cy="1157" r="23.5"/><path d="M749,1140L783,1174M783,1140L749,1174"/><text x="766" y="1157" transform="rotate(-90 766 1157)">IQ3</text></g>
<g id="n-IQ4" class="n b"><circle cx="766" cy="1077" r="27"/><text x="766" y="1077" transform="rotate(-90 766 1077)">IQ4</text></g>
<g id="n-IQ5" class="n w"><circle cx="766" cy="998" r="25.5"/><text x="766" y="998" transform="rotate(-90 766 998)">IQ5</text></g>
<g id="n-IQ6" class="n w"><circle cx="766" cy="918" r="25.5"/><text x="766" y="918" transform="rotate(-90 766 918)">IQ6</text></g>
<g id="n-IQ7" class="n c"><circle cx="766" cy="838" r="27"/><text x="766" y="838" transform="rotate(-90 766 838)">IQ7</text></g>
<g id="n-IQ8" class="n w"><circle cx="766" cy="758" r="25.5"/><text x="766" y="758" transform="rotate(-90 766 758)">IQ8</text></g>
<g id="n-IQ9" class="n c"><circle cx="766" cy="678" r="27"/><text x="766" y="678" transform="rotate(-90 766 678)">IQ9</text></g>
<g id="n-IQ10" class="n x"><circle cx="766" cy="599" r="23.5"/><path d="M749,582L783,616M783,582L749,616"/><text x="766" y="599" transform="rotate(-90 766 599)">IQ10</text></g>
<g id="n-IQ11" class="n x"><circle cx="766" cy="519" r="23.5"/><path d="M749,502L783,536M783,502L749,536"/><text x="766" y="519" transform="rotate(-90 766 519)">IQ11</text></g>
<g id="n-IQ12" class="n d"><circle cx="766" cy="439" r="27"/><text x="766" y="439" transform="rotate(-90 766 439)">IQ12</text></g>
<g id="n-IQ13" class="n d"><circle cx="766" cy="359" r="27"/><text x="766" y="359" transform="rotate(-90 766 359)">IQ13</text></g>
<g id="n-IQ14" class="n d"><circle cx="766" cy="279" r="27"/><text x="766" y="279" transform="rotate(-90 766 279)">IQ14</text></g>
<g id="n-IQ15" class="n d"><circle cx="766" cy="200" r="27"/><text x="766" y="200" transform="rotate(-90 766 200)">IQ15</text></g>
<g id="n-IQ16" class="n x"><circle cx="766" cy="120" r="23.5"/><path d="M749,103L783,137M783,103L749,137"/><text x="766" y="120" transform="rotate(-90 766 120)">IQ16</text></g>
<g id="n-IQ17" class="n d"><circle cx="766" cy="40" r="27"/><text x="766" y="40" transform="rotate(-90 766 40)">IQ17</text></g>

<g id="n-AHC1" class="n a"><circle cx="848" cy="1362" r="27"/><text x="848" y="1362" transform="rotate(-90 848 1362)">AHC1</text></g>
<g id="n-AHC2" class="n w"><circle cx="848" cy="1282" r="25.5"/><text x="848" y="1282" transform="rotate(-90 848 1282)">AHC2</text></g>
<g id="n-AHC3" class="n x"><circle cx="848" cy="1202" r="23.5"/><path d="M831,1185L865,1219M865,1185L831,1219"/><text x="848" y="1202" transform="rotate(-90 848 1202)">AHC3</text></g>
<g id="n-AHC4" class="n b"><circle cx="848" cy="1122" r="27"/><text x="848" y="1122" transform="rotate(-90 848 1122)">AHC4</text></g>
<g id="n-AHC5" class="n w"><circle cx="848" cy="1043" r="25.5"/><text x="848" y="1043" transform="rotate(-90 848 1043)">AHC5</text></g>
<g id="n-AHC6" class="n w"><circle cx="848" cy="963" r="25.5"/><text x="848" y="963" transform="rotate(-90 848 963)">AHC6</text></g>
<g id="n-AHC7" class="n c"><circle cx="848" cy="883" r="27"/><text x="848" y="883" transform="rotate(-90 848 883)">AHC7</text></g>
<g id="n-AHC8" class="n c"><circle cx="848" cy="795" r="27"/><text x="848" y="795" transform="rotate(-90 848 795)">AHC8</text></g>
<g id="n-AHC9" class="n x"><circle cx="848" cy="723" r="23.5"/><path d="M831,706L865,740M865,706L831,740"/><text x="848" y="723" transform="rotate(-90 848 723)">AHC9</text></g>
<g id="n-AHC10" class="n c"><circle cx="848" cy="644" r="27"/><text x="848" y="644" transform="rotate(-90 848 644)">AHC10</text></g>
<g id="n-AHC11" class="n d"><circle cx="848" cy="564" r="27"/><text x="848" y="564" transform="rotate(-90 848 564)">AHC11</text></g>
<g id="n-AHC12" class="n d"><circle cx="848" cy="484" r="27"/><text x="848" y="484" transform="rotate(-90 848 484)">AHC12</text></g>
<g id="n-AHC13" class="n x"><circle cx="848" cy="404" r="23.5"/><path d="M831,387L865,421M865,387L831,421"/><text x="848" y="404" transform="rotate(-90 848 404)">AHC13</text></g>
<g id="n-AHC14" class="n d"><circle cx="848" cy="324" r="27"/><text x="848" y="324" transform="rotate(-90 848 324)">AHC14</text></g>
<g id="n-AHC15" class="n w"><circle cx="848" cy="245" r="25.5"/><text x="848" y="245" transform="rotate(-90 848 245)">AHC15</text></g>
<g id="n-AHC16" class="n d"><circle cx="848" cy="165" r="27"/><text x="848" y="165" transform="rotate(-90 848 165)">AHC16</text></g>
<g id="n-AHC17" class="n d"><circle cx="848" cy="85" r="27"/><text x="848" y="85" transform="rotate(-90 848 85)">AHC17</text></g>

<g id="n-AC1" class="n a"><circle cx="935" cy="1317" r="27"/><text x="935" y="1317" transform="rotate(-90 935 1317)">AC1</text></g>
<g id="n-AC2" class="n w"><circle cx="935" cy="1237" r="25.5"/><text x="935" y="1237" transform="rotate(-90 935 1237)">AC2</text></g>
<g id="n-AC3" class="n b"><circle cx="935" cy="1157" r="27"/><text x="935" y="1157" transform="rotate(-90 935 1157)">AC3</text></g>
<g id="n-AC4" class="n w"><circle cx="935" cy="1077" r="25.5"/><text x="935" y="1077" transform="rotate(-90 935 1077)">AC4</text></g>
<g id="n-AC5" class="n w"><circle cx="935" cy="998" r="25.5"/><text x="935" y="998" transform="rotate(-90 935 998)">AC5</text></g>
<g id="n-AC6" class="n x"><circle cx="935" cy="918" r="23.5"/><path d="M918,901L952,935M952,901L918,935"/><text x="935" y="918" transform="rotate(-90 935 918)">AC6</text></g>
<g id="n-AC7" class="n x"><circle cx="935" cy="838" r="23.5"/><path d="M918,821L952,855M952,821L918,855"/><text x="935" y="838" transform="rotate(-90 935 838)">AC7</text></g>
<g id="n-AC8" class="n c"><circle cx="935" cy="758" r="27"/><text x="935" y="758" transform="rotate(-90 935 758)">AC8</text></g>
<g id="n-AC9" class="n c"><circle cx="935" cy="678" r="27"/><text x="935" y="678" transform="rotate(-90 935 678)">AC9</text></g>
<g id="n-AC10" class="n x"><circle cx="935" cy="599" r="23.5"/><path d="M918,582L952,616M952,582L918,616"/><text x="935" y="599" transform="rotate(-90 935 599)">AC10</text></g>
<g id="n-AC11" class="n d"><circle cx="935" cy="519" r="27"/><text x="935" y="519" transform="rotate(-90 935 519)">AC11</text></g>
<g id="n-AC12" class="n d"><circle cx="935" cy="439" r="27"/><text x="935" y="439" transform="rotate(-90 935 439)">AC12</text></g>
<g id="n-AC13" class="n d"><circle cx="935" cy="359" r="27"/><text x="935" y="359" transform="rotate(-90 935 359)">AC13</text></g>
<g id="n-AC14" class="n d"><circle cx="935" cy="279" r="27"/><text x="935" y="279" transform="rotate(-90 935 279)">AC14</text></g>
<g id="n-AC15" class="n d"><circle cx="935" cy="200" r="27"/><text x="935" y="200" transform="rotate(-90 935 200)">AC15</text></g>
<g id="n-AC16" class="n d"><circle cx="935" cy="120" r="27"/><text x="935" y="120" transform="rotate(-90 935 120)">AC16</text></g>
</g>
</svg>
